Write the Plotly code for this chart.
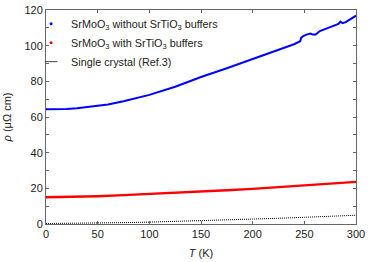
import plotly.graph_objects as go

# --- data ---
T_blue = [0, 10, 20, 30, 40, 48, 50, 52, 60, 75, 100, 125, 150, 175, 200, 225, 240, 246,
          247, 249, 252, 256, 258, 261, 265, 270, 278, 283, 285, 287, 290, 295, 300]
rho_blue = [64.3, 64.3, 64.5, 64.9, 65.5, 66.2, 66.0, 66.3, 67.0, 68.8, 72.4, 77.0, 82.4,
            87.3, 92.5, 97.6, 100.8, 102.5, 104.5, 105.3, 106.2, 106.8, 106.2, 106.3,
            108.2, 109.3, 111.0, 112.2, 113.5, 112.6, 113.2, 115.0, 116.8]

T_red = [0, 25, 50, 75, 100, 125, 150, 175, 200, 225, 250, 275, 300]
rho_red = [15.0, 15.1, 15.6, 16.2, 16.8, 17.5, 18.2, 18.9, 19.7, 20.6, 21.5, 22.5, 23.6]

T_sc = [0, 25, 50, 75, 100, 125, 150, 175, 200, 225, 250, 275, 300]
rho_sc = [0.3, 0.35, 0.5, 0.75, 1.05, 1.4, 1.8, 2.2, 2.7, 3.2, 3.75, 4.3, 4.9]

names = ["SrMoO<sub>3</sub> without SrTiO<sub>3</sub> buffers",
         "SrMoO<sub>3</sub> with SrTiO<sub>3</sub> buffers",
         "Single crystal (Ref.3)"]

x_ticks = [0, 50, 100, 150, 200, 250, 300]
y_ticks = [0, 20, 40, 60, 80, 100, 120]

FONT = "Liberation Sans, Arial, sans-serif"
TXT = "#222222"

fig = go.Figure()
fig.add_trace(go.Scatter(x=T_blue, y=rho_blue, mode="lines", line=dict(color="#0000ff", width=2),
                         showlegend=False))
fig.add_trace(go.Scatter(x=T_red, y=rho_red, mode="lines", line=dict(color="#ff0000", width=2.4),
                         showlegend=False))
fig.add_trace(go.Scatter(x=T_sc, y=rho_sc, mode="lines", line=dict(color="#000000", width=1, dash="1px,1px"),
                         showlegend=False))
# legend entries
fig.add_trace(go.Scatter(x=[None], y=[None], mode="markers", marker=dict(color="#0000ff", size=3),
                         name=names[0]))
fig.add_trace(go.Scatter(x=[None], y=[None], mode="markers", marker=dict(color="#ff0000", size=3),
                         name=names[1]))
fig.add_trace(go.Scatter(x=[None], y=[None], mode="markers",
                         marker=dict(symbol="line-ew", size=9, color="#444444",
                                     line=dict(color="#444444", width=1)),
                         name=names[2]))

axis_common = dict(showline=True, linecolor="#666666", linewidth=1, mirror="ticks",
                   ticks="inside", ticklen=3, tickcolor="#666666", showgrid=False, zeroline=False,
                   automargin=False,
                   tickfont=dict(family=FONT, size=11, color=TXT))

fig.update_xaxes(range=[0, 300], tickvals=x_ticks,
                 title=dict(text="<i>T</i> (K)", font=dict(family=FONT, size=11, color=TXT),
                            standoff=10),
                 **axis_common)
fig.update_yaxes(range=[0, 120], tickvals=y_ticks,
                 minor=dict(dtick=10, ticks="inside", ticklen=3, tickcolor="#666666"),
                 title=dict(text="<i>ρ</i> (μΩ cm)", font=dict(family=FONT, size=11, color=TXT),
                            standoff=10),
                 **axis_common)

fig.update_layout(
    width=374, height=262,
    margin=dict(l=46, r=18, t=10, b=38, autoexpand=False),
    paper_bgcolor="white", plot_bgcolor="white",
    font=dict(family=FONT, size=11, color=TXT),
    legend=dict(x=-0.048, y=1.004, xanchor="left", yanchor="top", bgcolor="rgba(0,0,0,0)",
                font=dict(family=FONT, size=10.8, color=TXT), itemwidth=30, tracegroupgap=0),
)

# remove the default page margin so the figure fills the 374x262 window
fig.write_html("out.html", config={"displayModeBar": False},
               post_script="document.body.style.margin='0';")
